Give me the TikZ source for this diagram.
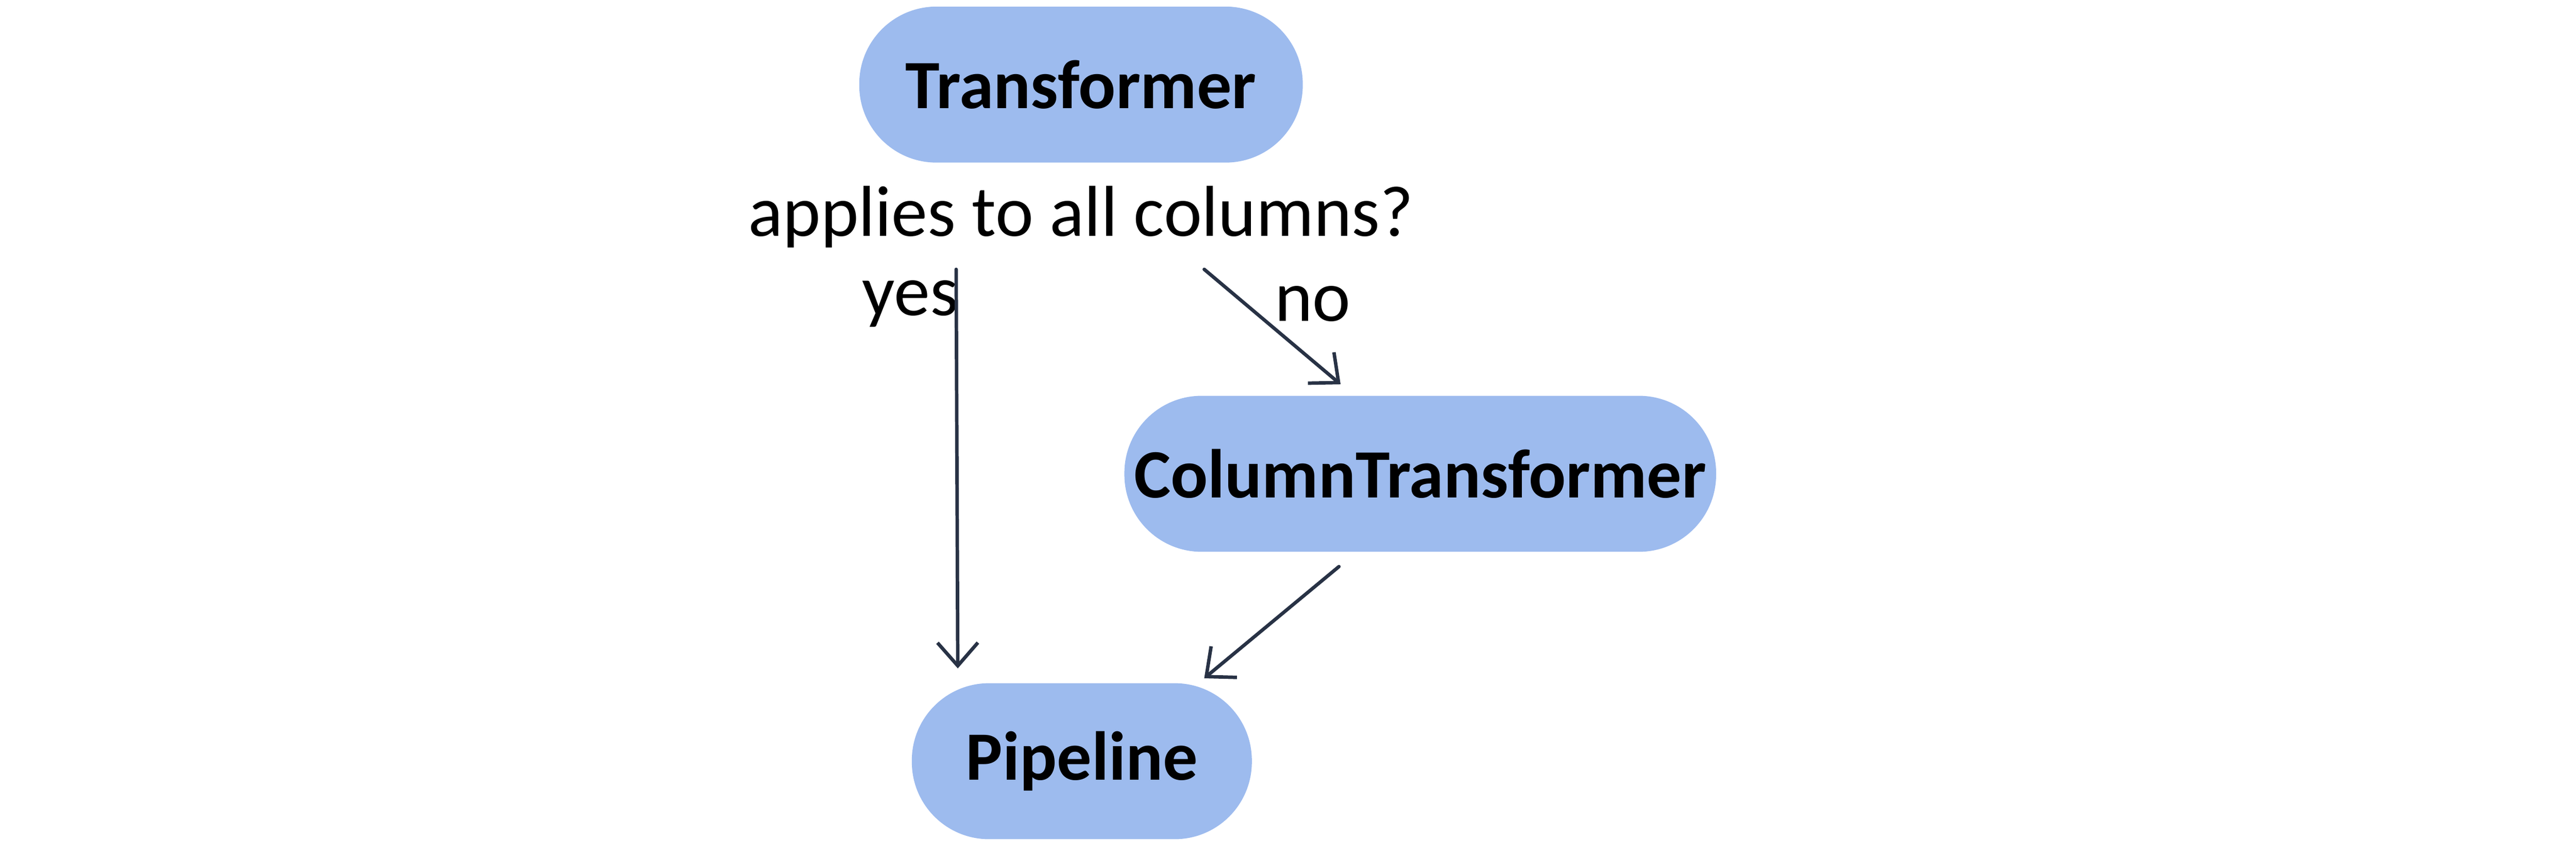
\documentclass[tikz,border=0pt]{standalone}
\usepackage{fontspec}
\setmainfont{Carlito}
\usetikzlibrary{arrows.meta}
\definecolor{boxblue}{HTML}{9DBBEE}
\definecolor{arrowgrey}{HTML}{283245}
\tikzset{
box/.style = {fill=boxblue, rounded corners=0.94cm, minimum height=1.9cm,
        font=\fontsize{24}{28}\selectfont\bfseries, text=black},
arr/.style = {very thick, arrowgrey, line cap=round,
        -{Straight Barb[length=8pt, width=14pt]}},
lbl/.style = {font=\fontsize{25}{30}\selectfont}
        }
\begin{document}
\begin{tikzpicture}[x=0.02cm, y=-0.02cm]

%%% Frame:
\useasboundingbox (0,0) rectangle (1568,512);

%%% Boxes:
\node[box, minimum width=5.4cm] (trans) at (658,51.5) {Transformer};
\node[box, minimum width=7.18cm] (coltrans) at (864.5,288.5) {ColumnTransformer};
\node[box, minimum width=4.14cm] (pipe) at (658.5,463.5) {Pipeline};

%%% Texts:
\node[lbl] (quest) at (658,132) {applies to all columns?};
\node[lbl] (yes) at (554,185) {yes};
\node[lbl] (no) at (799,185) {no};

\coordinate (yesA) at (582,164);
\coordinate (yesB) at (583,407);
\coordinate (noA) at (733,164);
\coordinate (noB) at (816,234);
\coordinate (ctA) at (815,345);
\coordinate (ctB) at (733,413);

%%% Arrows:
\draw[arr] (yesA) -- (yesB);
\draw[arr] (noA) -- (noB);
\draw[arr] (ctA) -- (ctB);

\end{tikzpicture}
\end{document}
